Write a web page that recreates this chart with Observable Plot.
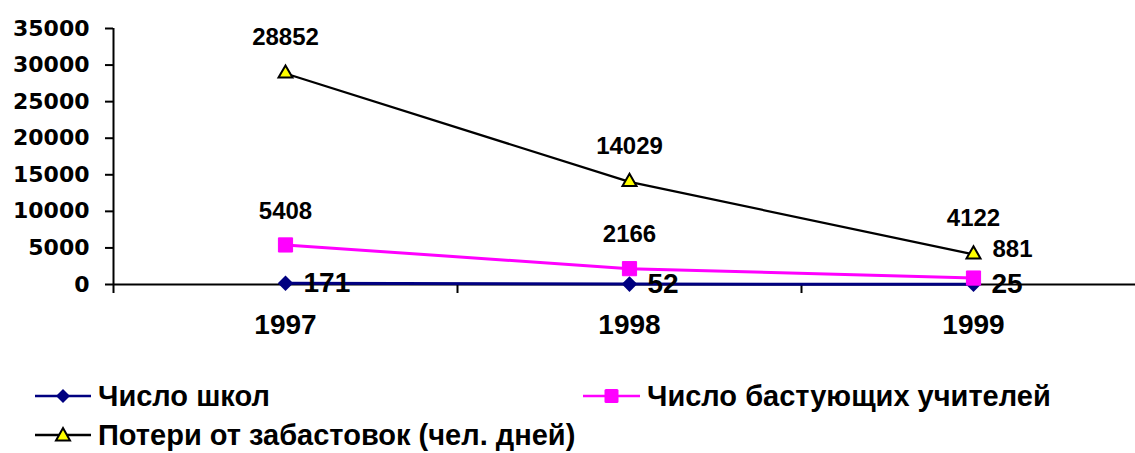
<!DOCTYPE html>
<html>
<head>
<meta charset="utf-8">
<script src="https://cdn.jsdelivr.net/npm/d3@7"></script>
<script src="https://cdn.jsdelivr.net/npm/@observablehq/plot@0.6"></script>
<style>
  html, body { margin: 0; padding: 0; background: #fff; }
  body { width: 1135px; height: 453px; overflow: hidden; font-family: "Liberation Sans", Arial, sans-serif; font-weight: bold; }
  #legend { position: relative; height: 103px; }
  .item { position: absolute; display: flex; align-items: center; font-size: 29px; line-height: 34px; color: #000; white-space: nowrap; }
  .item svg { margin-right: 7px; }
</style>
</head>
<body>
<div id="chart"></div>
<div id="legend"></div>
<script>
const years = [1997, 1998, 1999];
const schools = [171, 52, 25];
const teachers = [5408, 2166, 881];
const lossDays = [28852, 14029, 4122];
const seriesNames = ["Число школ", "Число бастующих учителей", "Потери от забастовок (чел. дней)"];
const yTicks = [0, 5000, 10000, 15000, 20000, 25000, 30000, 35000];
const xBoundaries = [1996.5, 1997.5, 1998.5];

const schoolRows = years.map((y, i) => ({year: y, value: schools[i]}));
const teacherRows = years.map((y, i) => ({year: y, value: teachers[i]}));
const lossRows = years.map((y, i) => ({year: y, value: lossDays[i]}));

const blue = "#000080", pink = "#ff00ff", yellow = "#ffff00";
const fmt = d3.format("d");

const chart = Plot.plot({
  width: 1135,
  height: 350,
  marginLeft: 113,
  marginRight: 0,
  marginTop: 28,
  marginBottom: 66,
  x: {type: "linear", domain: [1996.5, 1999.5], range: [113, 1145]},
  y: {domain: [0, 35000]},
  style: {fontFamily: "'Liberation Sans', Arial, sans-serif", fontWeight: "bold", color: "#000", background: "#fff", overflow: "hidden"},
  marks: [
    Plot.axisY({ticks: yTicks, tickSize: 8, tickPadding: 16, fontSize: 22, fontFamily: "'DejaVu Sans', sans-serif", tickFormat: fmt, label: null, strokeWidth: 2}),
    Plot.ruleX([1996.5], {y1: 0, y2: 35000, stroke: "#000", strokeWidth: 2}),
    Plot.ruleY([0], {stroke: "#000", strokeWidth: 2}),
    Plot.axisX({ticks: xBoundaries, tickSize: 9, tickFormat: () => "", label: null, strokeWidth: 2}),
    Plot.axisX({ticks: years, tickSize: 0, tickPadding: 30, fontSize: 28, tickFormat: fmt, label: null}),
    Plot.line(schoolRows, {x: "year", y: "value", stroke: blue, strokeWidth: 3}),
    Plot.dot(schoolRows, {x: "year", y: "value", symbol: "diamond2", r: 7, fill: blue, stroke: "none"}),
    Plot.line(teacherRows, {x: "year", y: "value", stroke: pink, strokeWidth: 3}),
    Plot.dot(teacherRows, {x: "year", y: "value", symbol: "square", r: 8, fill: pink, stroke: pink, strokeWidth: 1, strokeLinejoin: "round"}),
    Plot.line(lossRows, {x: "year", y: "value", stroke: "#000", strokeWidth: 2.2}),
    Plot.dot(lossRows, {x: "year", y: "value", symbol: "triangle", r: 5.2, fill: yellow, stroke: "#000", strokeWidth: 2}),
    Plot.text(lossRows, {x: "year", y: "value", text: d => fmt(d.value), dy: -36, fontSize: 24, fill: "#000"}),
    Plot.text(teacherRows.filter(d => d.year !== 1999), {x: "year", y: "value", text: d => fmt(d.value), dy: -34, fontSize: 24, fill: "#000"}),
    Plot.text(teacherRows.filter(d => d.year === 1999), {x: "year", y: "value", text: d => fmt(d.value), dx: 19, dy: -29, textAnchor: "start", fontSize: 24, fill: "#000"}),
    Plot.text(schoolRows, {x: "year", y: "value", text: d => fmt(d.value), dx: 18, dy: 0, textAnchor: "start", fontSize: 28, fill: "#000"})
  ]
});
document.getElementById("chart").appendChild(chart);

// Legend
const legend = d3.select("#legend");
function swatch(sel, color, kind, width) {
  const svg = sel.append("svg").attr("width", width).attr("height", 20);
  svg.append("line").attr("x1", 0).attr("x2", width).attr("y1", 10).attr("y2", 10)
    .attr("stroke", color).attr("stroke-width", 2.5);
  const cx = width / 2;
  if (kind === "diamond") {
    svg.append("path").attr("d", `M${cx},3L${cx + 7},10L${cx},17L${cx - 7},10Z`).attr("fill", color);
  } else if (kind === "square") {
    svg.append("rect").attr("x", cx - 7).attr("y", 3).attr("width", 14).attr("height", 14).attr("rx", 1.5).attr("fill", color);
  } else {
    svg.append("path").attr("d", `M${cx},3L${cx + 7},15.5L${cx - 7},15.5Z`).attr("fill", yellow).attr("stroke", "#000").attr("stroke-width", 2);
  }
}
const items = [
  {name: seriesNames[0], color: blue, kind: "diamond", left: 35, top: 29, w: 56},
  {name: seriesNames[1], color: pink, kind: "square", left: 583, top: 29, w: 57},
  {name: seriesNames[2], color: "#000", kind: "triangle", left: 35, top: 68, w: 56}
];
items.forEach(it => {
  const div = legend.append("div").attr("class", "item").style("left", it.left + "px").style("top", it.top + "px");
  swatch(div, it.color, it.kind, it.w);
  div.append("span").text(it.name);
});
</script>
</body>
</html>
